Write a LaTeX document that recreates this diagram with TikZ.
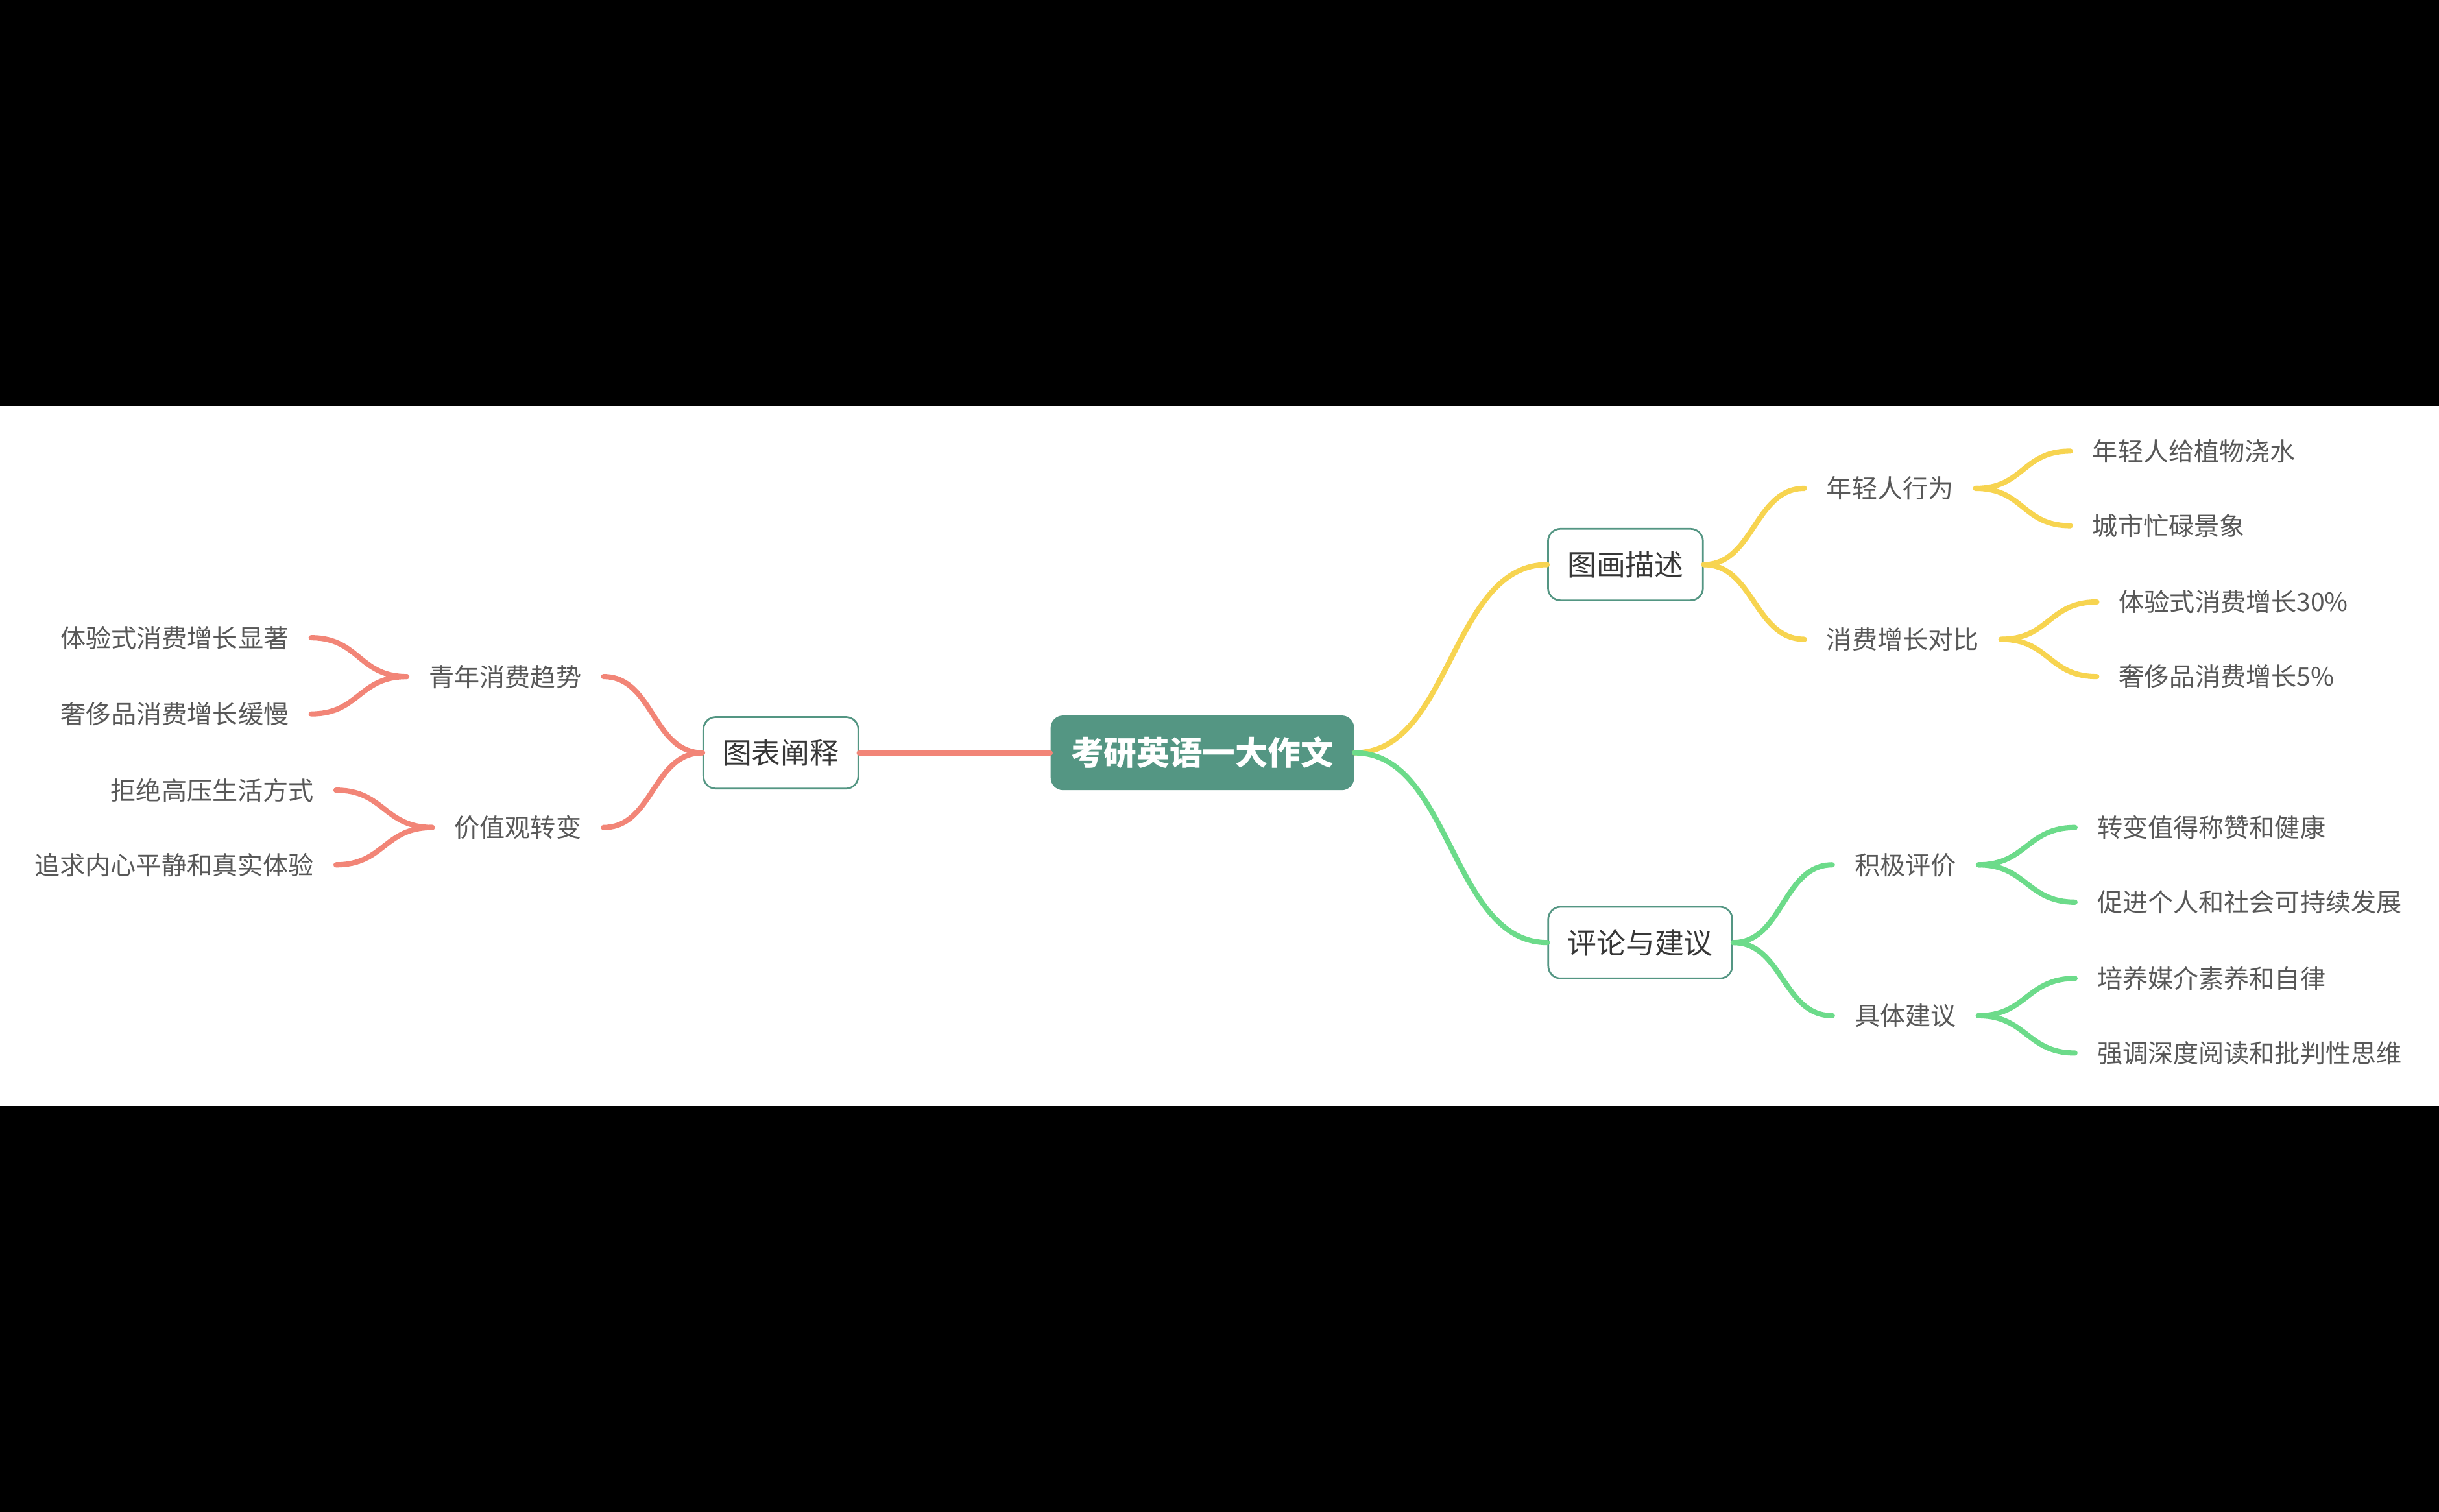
\documentclass[tikz,border=0pt]{standalone}
\usepackage{fontspec}
\setmainfont{Noto Sans CJK SC}

\definecolor{mapteal}{RGB}{84,150,131}
\definecolor{mapred}{RGB}{242,133,119}
\definecolor{mapyellow}{RGB}{247,212,80}
\definecolor{mapgreen}{RGB}{108,219,138}
\definecolor{maptext}{RGB}{88,88,88}
\definecolor{boxtext}{RGB}{55,55,55}

\begin{document}
\begin{tikzpicture}[x = 0.025cm, y = -0.025cm,
    root/.style = {fill = mapteal, rounded corners = 0.2cm, text = white, font = \fontsize{15}{18}\selectfont\bfseries, minimum height = 1.2cm, inner xsep = 0.33cm},
    topic/.style = {draw = mapteal, line width = 0.8pt, fill = white, rounded corners = 0.2cm, text = boxtext, font = \fontsize{13.3}{16}\selectfont, minimum height = 1.15cm, inner xsep = 0.31cm},
    leaf/.style = {text = maptext, font = \fontsize{11.6}{14}\selectfont, inner xsep = 0.35cm, inner ysep = 0pt},
    link/.style = {line width = 2.4pt, line cap = round}
]
    \fill[black] (0, 0) rectangle (1568, 972);
    \fill[white] (0, 261) rectangle (1568, 711);

    \node[root] (root) at (773, 484) {考研英语一大作文};
    \node[topic] (chart) at (502, 484) {图表阐释};
    \node[topic] (pic) at (1045, 363) {图画描述};
    \node[topic] (comment) at (1054.5, 606) {评论与建议};

    % left branch
    \node[leaf, anchor = east] (trend) at (388, 435) {青年消费趋势};
    \node[leaf, anchor = east] (value) at (388, 532) {价值观转变};
    \node[leaf, anchor = east] (exp) at (200, 410) {体验式消费增长显著};
    \node[leaf, anchor = east] (lux) at (200, 459) {奢侈品消费增长缓慢};
    \node[leaf, anchor = east] (refuse) at (216, 508) {拒绝高压生活方式};
    \node[leaf, anchor = east] (pursue) at (216, 556) {追求内心平静和真实体验};

    % right branches
    \node[leaf, anchor = west] (young) at (1160, 314) {年轻人行为};
    \node[leaf, anchor = west] (growth) at (1160, 411) {消费增长对比};
    \node[leaf, anchor = west] (water) at (1331, 290) {年轻人给植物浇水};
    \node[leaf, anchor = west] (city) at (1331, 338) {城市忙碌景象};
    \node[leaf, anchor = west] (expup) at (1348, 387) {体验式消费增长30\%};
    \node[leaf, anchor = west] (luxup) at (1348, 435) {奢侈品消费增长5\%};

    \node[leaf, anchor = west] (praise) at (1178, 556) {积极评价};
    \node[leaf, anchor = west] (advice) at (1178, 653) {具体建议};
    \node[leaf, anchor = west] (worth) at (1334, 532) {转变值得称赞和健康};
    \node[leaf, anchor = west] (sustain) at (1334, 580) {促进个人和社会可持续发展};
    \node[leaf, anchor = west] (media) at (1334, 629) {培养媒介素养和自律};
    \node[leaf, anchor = west] (deep) at (1334, 677) {强调深度阅读和批判性思维};

    \draw[link, mapred] (root.west) -- (chart.east);
    \draw[link, mapred] (chart.west) .. controls +(-32, 0) and +(32, 0) .. (trend.east);
    \draw[link, mapred] (chart.west) .. controls +(-32, 0) and +(32, 0) .. (value.east);
    \draw[link, mapred] (trend.west) .. controls +(-31, 0) and +(31, 0) .. (exp.east);
    \draw[link, mapred] (trend.west) .. controls +(-31, 0) and +(31, 0) .. (lux.east);
    \draw[link, mapred] (value.west) .. controls +(-31, 0) and +(31, 0) .. (refuse.east);
    \draw[link, mapred] (value.west) .. controls +(-31, 0) and +(31, 0) .. (pursue.east);

    \draw[link, mapyellow] (root.east) .. controls +(62, 0) and +(-62, 0) .. (pic.west);
    \draw[link, mapyellow] (pic.east) .. controls +(32, 0) and +(-32, 0) .. (young.west);
    \draw[link, mapyellow] (pic.east) .. controls +(32, 0) and +(-32, 0) .. (growth.west);
    \draw[link, mapyellow] (young.east) .. controls +(31, 0) and +(-31, 0) .. (water.west);
    \draw[link, mapyellow] (young.east) .. controls +(31, 0) and +(-31, 0) .. (city.west);
    \draw[link, mapyellow] (growth.east) .. controls +(31, 0) and +(-31, 0) .. (expup.west);
    \draw[link, mapyellow] (growth.east) .. controls +(31, 0) and +(-31, 0) .. (luxup.west);

    \draw[link, mapgreen] (root.east) .. controls +(62, 0) and +(-62, 0) .. (comment.west);
    \draw[link, mapgreen] (comment.east) .. controls +(32, 0) and +(-32, 0) .. (praise.west);
    \draw[link, mapgreen] (comment.east) .. controls +(32, 0) and +(-32, 0) .. (advice.west);
    \draw[link, mapgreen] (praise.east) .. controls +(31, 0) and +(-31, 0) .. (worth.west);
    \draw[link, mapgreen] (praise.east) .. controls +(31, 0) and +(-31, 0) .. (sustain.west);
    \draw[link, mapgreen] (advice.east) .. controls +(31, 0) and +(-31, 0) .. (media.west);
    \draw[link, mapgreen] (advice.east) .. controls +(31, 0) and +(-31, 0) .. (deep.west);
\end{tikzpicture}
\end{document}
